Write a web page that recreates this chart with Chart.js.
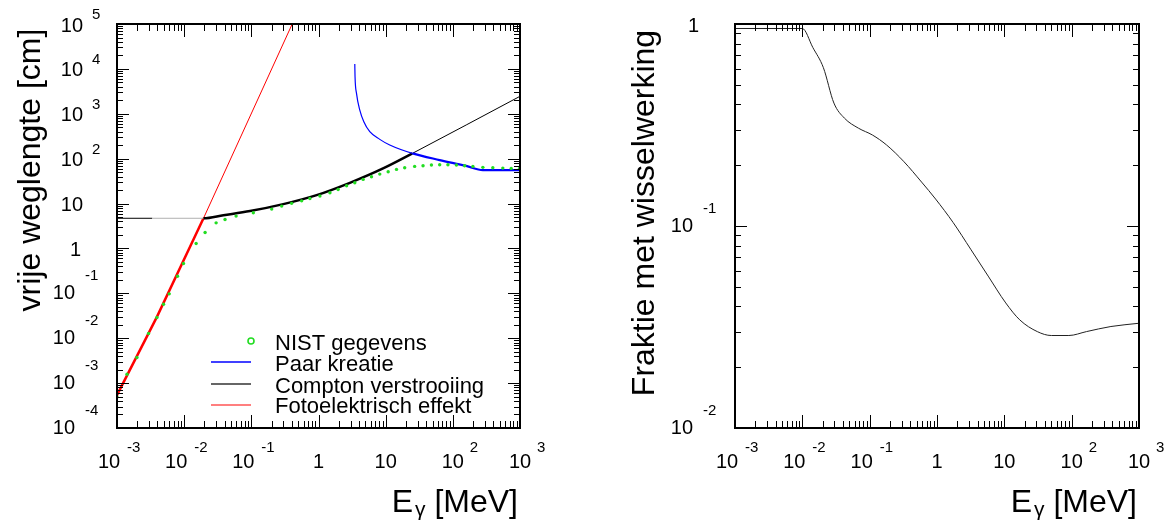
<!DOCTYPE html>
<html>
<head>
<meta charset="utf-8">
<script src="https://cdn.jsdelivr.net/npm/chart.js@4.4.1/dist/chart.umd.min.js"></script>
<style>
  html, body { margin: 0; padding: 0; background: #fff; }
  #wrap { position: relative; width: 1170px; height: 527px; overflow: hidden; }
  canvas { position: absolute; top: 0; }
</style>
</head>
<body>
<div id="wrap">
  <canvas id="pathChart" width="585" height="527" style="left:0"></canvas>
  <canvas id="fracChart" width="585" height="527" style="left:585px"></canvas>
</div>
<script>
// ---- data (energies in MeV) ----
const xDecades = [-3, -2, -1, 0, 1, 2, 3];
const pathDecades = [-4, -3, -2, -1, 0, 1, 2, 3, 4, 5];
const fracDecades = [-2, -1, 0];

// photo-electric effect, mean free path [cm]
const photoE = [0.001, 0.00393, 0.0194, 0.406];
const photoL = [5.4e-4, 0.0299, 4.7, 1e5];

// Compton scattering
const comptonE = [0.001, 0.00335, 0.0194, 0.0384, 0.0957, 0.299, 0.938, 2.93, 9.15, 25, 1000];
const comptonL = [4.7, 4.7, 4.7, 5.5, 6.8, 9.7, 15.4, 29, 60.7, 131, 2450];

// pair creation
const pairE = [3.47, 3.5, 3.68, 4.12, 4.73, 5.8, 8.17, 11.5, 25, 63.7, 158, 280, 1000];
const pairL = [12800, 6680, 2850, 1210, 664, 398, 269, 201, 131, 93, 69, 55.6, 55.6];

// NIST data points
const nistE = [0.001, 0.00141, 0.00198, 0.00295, 0.00393, 0.00493, 0.00599, 0.00796, 0.00977, 0.01507,
  0.0205, 0.0299, 0.0406, 0.0593, 0.107, 0.201, 0.283, 0.398, 0.561, 0.745,
  1.05, 1.48, 1.96, 2.62, 3.47, 4.62, 6.15, 8.17, 10.9, 14.5,
  19.2, 27, 36, 48, 63.7, 84.5, 113, 150, 199, 280,
  394, 555, 740, 984];
const nistL = [4.9e-4, 0.00158, 0.00372, 0.01274, 0.029, 0.0573, 0.0973, 0.241, 0.462, 1.29,
  2.27, 3.72, 4.43, 5.25, 6.22, 7.52, 8.77, 10.1, 11.5, 13.0,
  14.7, 17.4, 20.6, 24.9, 29, 34.5, 39.4, 45.3, 51, 57.7,
  62.7, 67.3, 69.3, 72, 73.1, 73.1, 72, 69.3, 67.3, 64,
  62.7, 61.6, 60.7, 60.7];

// fraction with interaction
const fracE = [0.001, 0.01, 0.01432, 0.02054, 0.02944, 0.04217, 0.06808, 0.1102, 0.1778, 0.3236,
  0.5902, 0.9528, 1.738, 3.162, 5.754, 10.5, 16.94, 30.9, 49.9, 90.8, 165.6, 382.8, 1000];
const fracY = [0.95, 0.95, 0.765, 0.608, 0.406, 0.342, 0.305, 0.282, 0.252, 0.208,
  0.165, 0.136, 0.104, 0.0768, 0.0565, 0.0416, 0.0343, 0.0300, 0.0287, 0.0287, 0.0300, 0.0318, 0.0330];

const FONT = '"Liberation Sans", Arial, Helvetica, sans-serif';
const pts = (xs, ys) => xs.map((x, i) => ({ x: x, y: ys[i] }));

// inward log ticks on all four sides
function logTicks(ctx, scale, area, horizontal, majorLen, minorLen) {
  const lo = Math.floor(Math.log10(scale.min));
  const hi = Math.ceil(Math.log10(scale.max));
  ctx.save();
  ctx.strokeStyle = '#000';
  ctx.lineWidth = 1;
  for (let d = lo; d <= hi; d++) {
    for (let m = 1; m <= 9; m++) {
      const v = m * Math.pow(10, d);
      if (v < scale.min * 0.999 || v > scale.max * 1.001) continue;
      const p = Math.round(scale.getPixelForValue(v)) + 0.5;
      const len = m === 1 ? majorLen : minorLen;
      ctx.beginPath();
      if (horizontal) {
        ctx.moveTo(p, area.bottom); ctx.lineTo(p, area.bottom - len);
        ctx.moveTo(p, area.top); ctx.lineTo(p, area.top + len);
      } else {
        ctx.moveTo(area.left, p); ctx.lineTo(area.left + len, p);
        ctx.moveTo(area.right, p); ctx.lineTo(area.right - len, p);
      }
      ctx.stroke();
    }
  }
  ctx.restore();
}

function xLabel(ctx, scale, k) {
  const t = scale.getPixelForValue(Math.pow(10, k));
  const y = 462;
  ctx.font = '20px ' + FONT;
  ctx.textAlign = 'center';
  ctx.textBaseline = 'middle';
  if (k === 0) { ctx.fillText('1', t, y); return; }
  if (k === 1) { ctx.fillText('10', t, y); return; }
  ctx.fillText('10', k < 0 ? t - 8 : t, y);
  ctx.font = '15px ' + FONT;
  ctx.textAlign = 'left';
  ctx.fillText(String(k), k < 0 ? t + 10 : t + 17, y - 14);
}

function yLabel(ctx, scale, area, k) {
  const t = scale.getPixelForValue(Math.pow(10, k));
  const F = area.left;
  ctx.font = '20px ' + FONT;
  ctx.textAlign = 'right';
  ctx.textBaseline = 'middle';
  if (k === 0) { ctx.fillText('1', F - 36, t + 2); return; }
  if (k === 1) { ctx.fillText('10', F - 34, t + 2); return; }
  ctx.fillText('10', k < 0 ? F - 42 : F - 34, k < 0 ? t : t + 2);
  ctx.font = '15px ' + FONT;
  ctx.textAlign = 'left';
  ctx.fillText(String(k), k < 0 ? F - 32 : F - 25, k < 0 ? t - 17 : t - 9);
}

function energyTitle(ctx, area) {
  const right = area.right - 2;
  ctx.textBaseline = 'alphabetic';
  ctx.textAlign = 'left';
  ctx.font = '32px ' + FONT;
  const wE = ctx.measureText('E').width;
  const wR = ctx.measureText(' [MeV]').width;
  ctx.font = '21px ' + FONT;
  const wG = ctx.measureText('\u03b3').width;
  let x = right - (wE + 2 + wG + wR);
  ctx.font = '32px ' + FONT;
  ctx.fillText('E', x, 512);
  x += wE + 2;
  ctx.font = '21px ' + FONT;
  ctx.fillText('\u03b3', x, 516);
  x += wG;
  ctx.font = '32px ' + FONT;
  ctx.fillText(' [MeV]', x, 512);
}

function verticalTitle(ctx, text, x, y) {
  ctx.save();
  ctx.translate(x, y);
  ctx.rotate(-Math.PI / 2);
  ctx.font = '32px ' + FONT;
  ctx.textAlign = 'center';
  ctx.textBaseline = 'alphabetic';
  ctx.fillText(text, 0, 0);
  ctx.restore();
}

function framePlugin(cfg) {
  return {
    id: 'frame_' + cfg.name,
    afterDraw(chart) {
      const ctx = chart.ctx;
      const area = chart.chartArea;
      const xs = chart.scales.x, ys = chart.scales.y;
      logTicks(ctx, xs, area, true, 13, 7);
      logTicks(ctx, ys, area, false, 12, 6);
      ctx.save();
      ctx.strokeStyle = '#000';
      ctx.lineWidth = 2;
      ctx.strokeRect(area.left, area.top, area.right - area.left, area.bottom - area.top);
      ctx.fillStyle = '#000';
      xDecades.forEach(k => xLabel(ctx, xs, k));
      cfg.yDecades.forEach(k => yLabel(ctx, ys, area, k));
      energyTitle(ctx, area);
      verticalTitle(ctx, cfg.yTitle, cfg.titleX, cfg.titleY);
      if (cfg.legend) cfg.legend(ctx);
      ctx.restore();
    }
  };
}

function pathLegend(ctx) {
  ctx.font = '22px ' + FONT;
  ctx.textAlign = 'left';
  ctx.textBaseline = 'alphabetic';
  ctx.fillStyle = '#000';
  ctx.strokeStyle = '#22dd22';
  ctx.lineWidth = 1.6;
  ctx.beginPath();
  ctx.arc(251, 341, 3, 0, Math.PI * 2);
  ctx.stroke();
  ctx.fillText('NIST gegevens', 275, 350);
  const rows = [
    ['Paar kreatie', '#0000ff', 362, 371],
    ['Compton verstrooiing', '#333333', 384, 393],
    ['Fotoelektrisch effekt', '#ff5555', 405, 413]
  ];
  rows.forEach(r => {
    ctx.strokeStyle = r[1];
    ctx.lineWidth = 1.3;
    ctx.beginPath();
    ctx.moveTo(211, r[2]);
    ctx.lineTo(251, r[2]);
    ctx.stroke();
    ctx.fillText(r[0], 275, r[3]);
  });
}

function logScale(min, max) {
  return {
    type: 'logarithmic', min: min, max: max, display: false,
    grid: { display: false }, ticks: { display: false }
  };
}

const baseOptions = (yMin, yMax, padding) => ({
  responsive: false,
  animation: false,
  devicePixelRatio: 1,
  layout: { padding: padding },
  plugins: { legend: { display: false }, tooltip: { enabled: false } },
  scales: { x: logScale(1e-3, 1e3), y: logScale(yMin, yMax) }
});

new Chart(document.getElementById('pathChart'), {
  type: 'scatter',
  data: {
    datasets: [
      {
        label: 'NIST gegevens', data: pts(nistE, nistL), order: 0,
        pointRadius: 1.7, pointBackgroundColor: '#22dd22', pointBorderWidth: 0
      },
      {
        label: 'Paar kreatie', data: pts(pairE, pairL), order: 1, showLine: true,
        cubicInterpolationMode: 'monotone',
        pointRadius: 0, borderColor: '#0000ff', borderWidth: 1.2,
        segment: { borderWidth: c => c.p0.parsed.x >= 25 ? 2.2 : 1.2 }
      },
      {
        label: 'Compton verstrooiing', data: pts(comptonE, comptonL), order: 2, showLine: true,
        cubicInterpolationMode: 'monotone',
        pointRadius: 0, borderColor: '#000', borderWidth: 1,
        segment: {
          borderWidth: c => (c.p0.parsed.x >= 0.0194 && c.p0.parsed.x < 25) ? 2.5 : 1,
          borderColor: c => (c.p0.parsed.x >= 0.003 && c.p0.parsed.x < 0.0194) ? '#b0b0b0' : '#000'
        }
      },
      {
        label: 'Fotoelektrisch effekt', data: pts(photoE, photoL), order: 3, showLine: true,
        pointRadius: 0, borderColor: '#ff0000', borderWidth: 1,
        segment: { borderWidth: c => c.p0.parsed.x < 0.0194 ? 2.5 : 1 }
      }
    ]
  },
  options: baseOptions(1e-4, 1e5, { left: 117, right: 65, top: 24, bottom: 99 }),
  plugins: [framePlugin({
    name: 'path', yDecades: pathDecades, yTitle: 'vrije weglengte [cm]',
    titleX: 40, titleY: 170, legend: pathLegend
  })]
});

new Chart(document.getElementById('fracChart'), {
  type: 'scatter',
  data: {
    datasets: [{
      label: 'Fraktie met wisselwerking', data: pts(fracE, fracY), showLine: true,
      cubicInterpolationMode: 'monotone',
      pointRadius: 0, borderColor: '#222', borderWidth: 1
    }]
  },
  options: baseOptions(1e-2, 1, { left: 150, right: 31, top: 24, bottom: 99 }),
  plugins: [framePlugin({
    name: 'frac', yDecades: fracDecades, yTitle: 'Fraktie met wisselwerking',
    titleX: 69, titleY: 213
  })]
});
</script>
</body>
</html>
